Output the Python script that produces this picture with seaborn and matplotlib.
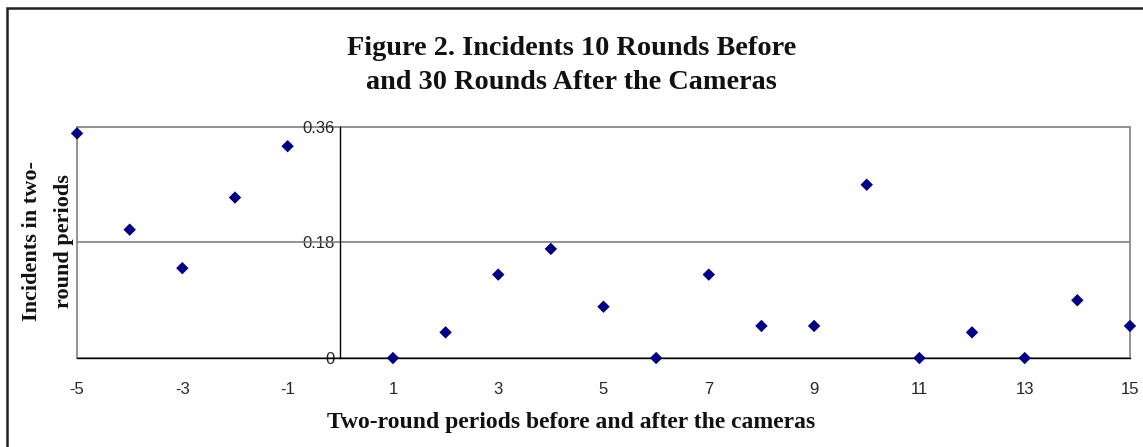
import seaborn as sns
import pandas as pd
import matplotlib.pyplot as plt
from matplotlib.patches import Rectangle

sns.set_style('white')
plt.rcParams['axes.unicode_minus'] = False

# Data
periods = [-5, -4, -3, -2, -1, 1, 2, 3, 4, 5, 6, 7, 8, 9, 10, 11, 12, 13, 14, 15]
incidents = [0.35, 0.20, 0.14, 0.25, 0.33, 0.0, 0.04, 0.13, 0.17, 0.08,
             0.0, 0.13, 0.05, 0.05, 0.27, 0.0, 0.04, 0.0, 0.09, 0.05]
x_ticks = [-5, -3, -1, 1, 3, 5, 7, 9, 11, 13, 15]
y_ticks = [0, 0.18, 0.36]

df = pd.DataFrame({'period': periods, 'incidents': incidents})

fig = plt.figure(figsize=(11.43, 4.47), dpi=100)
ax = fig.add_axes([0.0674, 0.199, 0.9212, 0.517])

sns.scatterplot(data=df, x='period', y='incidents', ax=ax, marker='D',
                s=40, color='#000080', edgecolor='none', zorder=5, clip_on=False)

ax.set_xlim(-5, 15)
ax.set_ylim(0, 0.36)
ax.set_xticks(x_ticks)
ax.set_yticks(y_ticks)
ax.set_yticklabels(['0', '0.18', '0.36'])

# gray plot-area frame and gridline
ax.patch.set_edgecolor('#808080')
ax.patch.set_linewidth(1.2)
ax.axhline(0.18, color='#808080', lw=1.2, zorder=1)

for s in ['top', 'right']:
    ax.spines[s].set_visible(False)
ax.spines['left'].set_position(('data', 0))
ax.spines['left'].set_color('black')
ax.spines['left'].set_linewidth(1)
ax.spines['bottom'].set_color('black')
ax.spines['bottom'].set_linewidth(1)

ax.tick_params(axis='both', direction='out', length=4, width=1, color='black',
               labelsize=12)
ax.tick_params(axis='x', pad=13)
ax.tick_params(axis='y', pad=0)
for lab in ax.get_xticklabels() + ax.get_yticklabels():
    lab.set_family('Liberation Sans')

ax.set_xlabel('')
ax.set_ylabel('')

serif = ['Liberation Serif', 'DejaVu Serif']
fig.text(0.5, 0.853, 'Figure 2. Incidents 10 Rounds Before\nand 30 Rounds After the Cameras',
         ha='center', va='center', family=serif, fontweight='bold', fontsize=20.3,
         linespacing=1.5, color='#111111')
fig.text(0.5, 0.054, 'Two-round periods before and after the cameras',
         ha='center', va='center', family=serif, fontweight='bold', fontsize=17,
         color='#111111')
fig.text(0.042, 0.46, 'Incidents in two-\nround periods', rotation=90,
         ha='center', va='center', family=serif, fontweight='bold', fontsize=16,
         linespacing=1.8, color='#111111')

# outer chart border
fig.patches.append(Rectangle((0.006, -0.05), 1.2, 1.032, transform=fig.transFigure,
                             fill=False, edgecolor='#222222', lw=1.8))

fig.savefig('out.png', dpi=100)
